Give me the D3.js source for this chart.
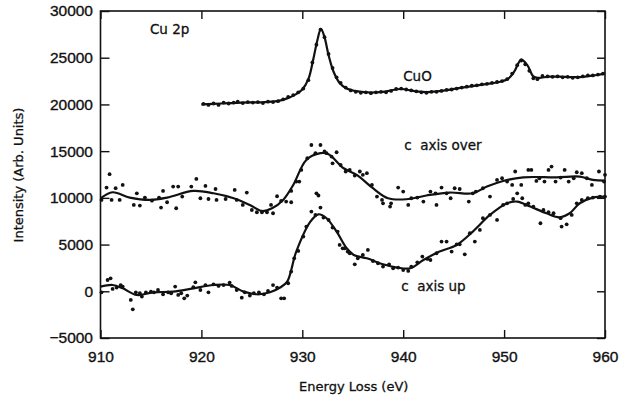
<!DOCTYPE html>
<html>
<head>
<meta charset="utf-8">
<script src="https://cdn.jsdelivr.net/npm/d3@7"></script>
<style>
  html, body { margin: 0; padding: 0; background: #fff; }
  svg { display: block; font-family: "DejaVu Sans", sans-serif; }
  .tick line { stroke: #111; stroke-width: 1.4; }
  .tick text { fill: #111; font-size: 15.5px; stroke: #111; stroke-width: 0.35; }
  .frame { fill: none; stroke: #111; stroke-width: 1.6; }
  .fit { fill: none; stroke: #111; stroke-width: 2.2; }
  .dot { fill: #111; }
  .note { fill: #111; font-size: 13.5px; white-space: pre; stroke: #111; stroke-width: 0.3; }
  .axis-title { fill: #111; font-size: 13px; stroke: #111; stroke-width: 0.3; }
</style>
</head>
<body>
<svg id="chart" width="622" height="400"></svg>
<script>
// tick values
const xTicks = [910, 920, 930, 940, 950, 960];
const yTicks = [-5000, 0, 5000, 10000, 15000, 20000, 25000, 30000];

// CuO spectrum: measured points and fitted curve [energy, intensity]
const cuoPoints = [
  [920.2,20050],[920.7,19950],[921.2,20100],[921.7,19950],[922.2,20200],[922.7,20100],[923.2,20200],[923.6,20300],
  [924.1,20150],[924.6,20250],[925.1,20200],[925.6,20250],[926.1,20150],[926.6,20300],[927.1,20250],[927.6,20350],
  [928.1,20550],[928.6,20800],[929.1,21000],[929.6,21300],[930.1,21700],[930.6,22600],[931.0,24500],[931.4,26400],
  [931.8,28000],[932.2,27200],[932.6,25400],[933.0,23900],[933.4,22900],[933.8,22300],[934.3,21800],[934.8,21500],
  [935.3,21350],[935.8,21250],[936.3,21300],[936.8,21200],[937.3,21300],[937.8,21350],[938.3,21300],[938.8,21450],
  [939.3,21650],[939.8,21700],[940.3,21600],[940.8,21500],[941.3,21400],[941.8,21300],[942.3,21250],[942.8,21350],
  [943.3,21350],[943.8,21450],[944.3,21550],[944.8,21600],[945.3,21700],[945.8,21800],[946.3,21900],[946.8,22000],
  [947.3,22050],[947.8,22150],[948.3,22200],[948.8,22300],[949.3,22400],[949.8,22500],[950.3,22700],[950.8,23300],
  [951.3,24200],[951.7,24700],[952.1,24300],[952.5,23600],[952.9,22800],[953.3,22700],[953.8,23050],[954.3,23000],
  [954.8,22950],[955.3,23000],[955.8,22900],[956.3,22950],[956.8,22850],[957.3,22900],[957.8,23000],[958.3,23100],
  [958.8,23100],[959.3,23200],[959.8,23300]
];
const cuoFit = [
  [920,20000],[922,20100],[924,20200],[926,20230],[927.5,20350],[928.5,20650],[929.3,21050],[930,21600],
  [930.6,22700],[931.1,24900],[931.5,26900],[931.85,28100],[932.2,27200],[932.6,25300],[933.1,23500],[933.7,22300],
  [934.4,21700],[935.2,21450],[936.5,21280],[938,21350],[939.8,21650],[941,21450],[942.5,21320],[944,21480],
  [946,21830],[948,22150],[949.5,22400],[950.4,22750],[951,23500],[951.7,24800],[952.3,24200],[952.9,23000],
  [953.4,22850],[954.5,22980],[956,22950],[957.5,22920],[959,23120],[960,23300]
];

// c axis over
const overPoints = [
  [910.1,9780],[910.6,11100],[910.9,12530],[911.1,9780],[911.5,11040],[911.9,9780],[912.2,11380],[913.3,9240],
  [913.6,10490],[913.9,9170],[914.4,10030],[915.1,9700],[915.8,10030],[916.0,8960],[916.2,10740],[916.6,9530],
  [917.2,11210],[917.5,8890],[917.7,11210],[918.1,10140],[919.0,11210],[919.5,12030],[919.9,9960],[920.4,11280],
  [920.7,9880],[921.4,10950],[921.5,9780],[922.4,9880],[923.3,10850],[923.5,9780],[924.1,9240],[924.5,10570],
  [925.0,8700],[925.5,8460],[926.0,8460],[926.5,8460],[927.1,8350],[926.9,9240],[927.5,10170],[927.9,9670],
  [928.4,9600],[928.9,9530],[928.9,10740],[929.4,11740],[929.7,11740],[929.9,12990],[930.5,14240],[930.9,15660],
  [931.3,14780],[931.4,10490],[931.6,10250],[931.8,15660],[932.2,14960],[932.4,14780],[932.9,14420],[933.0,13700],
  [933.4,14880],[933.8,13520],[934.3,12820],[934.7,12990],[935.2,12390],[935.7,12820],[936.0,12460],[936.4,12640],
  [936.9,11380],[937.4,10140],[937.9,9780],[938.0,9420],[938.7,9070],[938.8,9420],[939.5,11100],[940.0,10670],
  [940.5,9240],[940.8,9960],[941.4,10030],[942.0,9600],[942.7,10670],[943.2,10490],[943.3,9240],[943.8,11100],
  [944.3,10490],[944.7,9960],[945.1,11030],[945.6,10950],[946.5,9600],[946.9,10490],[947.2,10670],[947.9,11030],
  [948.6,10140],[949.3,11920],[949.8,12100],[950.3,11740],[950.8,11380],[951.1,12820],[951.7,11380],[952.4,12990],
  [952.7,12990],[953.2,11810],[953.5,12100],[954.0,11740],[954.4,12990],[954.7,13350],[955.1,11740],[955.6,12170],
  [956.0,12990],[956.4,11740],[956.9,12100],[957.2,12740],[957.7,12640],[958.2,12100],[958.7,11380],[959.4,12820],
  [959.9,11740],[960.0,12460]
];
const overFit = [
  [910,9950],[911.2,10600],[912.9,10030],[914.9,9780],[916.6,10030],[919.2,10740],[921.2,10490],[923.2,9960],
  [924.8,9240],[926.0,8600],[927.0,8890],[928.1,9780],[929.1,11380],[930.4,14060],[931.8,14780],[932.6,14670],
  [934.1,13170],[935.4,12460],[937.0,11030],[938.5,9960],[940.3,9850],[942.3,10250],[944.6,10570],[946.9,10490],
  [948.3,11210],[949.9,11810],[951.9,12200],[955.2,12200],[957.5,12280],[958.8,11920],[960,11850]
];

// c axis up
const upPoints = [
  [910.1,-110],[910.7,1210],[911.0,1390],[911.2,250],[911.6,400],[912.0,670],[912.2,500],[913.0,-930],
  [913.2,-1930],[913.5,-110],[913.9,-210],[914.1,-570],[914.5,-110],[915.0,-40],[915.3,-110],[915.7,140],
  [916.2,-320],[916.7,-110],[917.0,-210],[917.4,500],[917.7,-390],[918.0,-210],[918.3,-750],[918.6,-460],
  [919.2,430],[919.4,960],[919.9,140],[920.4,670],[920.7,-110],[921.2,740],[921.7,570],[922.2,670],
  [922.8,930],[923.0,570],[923.5,140],[924.0,-680],[924.3,-110],[924.8,-460],[925.2,-210],[925.7,-110],
  [926.2,-320],[926.6,40],[927.1,670],[927.5,400],[927.9,-750],[928.2,-750],[928.6,860],[928.9,2110],
  [929.2,3530],[929.6,4320],[930.1,5860],[930.4,6930],[930.9,8530],[931.3,8170],[931.8,8960],[932.1,7890],
  [932.6,7640],[933.0,6820],[933.5,6390],[934.0,4600],[934.5,4250],[933.7,4960],[934.2,4600],[934.7,4070],
  [935.2,2890],[935.5,3530],[936.0,3890],[936.5,4430],[937.0,3240],[937.5,3000],[938.0,2640],[938.6,2890],
  [939.0,2460],[939.5,2540],[940.0,2280],[940.5,2180],[940.8,2640],[941.4,3100],[941.9,3710],[942.4,3460],
  [942.7,3350],[943.3,4070],[943.8,5320],[944.3,5320],[944.8,4250],[945.3,5030],[945.6,5030],[946.1,3960],
  [946.6,6210],[947.1,5320],[947.6,6570],[947.9,7820],[948.6,8170],[949.3,7640],[949.9,9240],[950.3,9420],
  [950.9,9880],[951.3,10490],[951.8,9960],[952.1,9240],[952.4,9420],[952.9,9070],[953.6,7280],[953.9,8710],
  [954.4,8460],[954.9,8350],[955.6,7820],[955.7,6930],[956.2,7170],[956.7,8170],[957.2,9420],[957.7,9780],
  [958.3,9960],[958.8,10030],[959.5,10140],[960.0,10140]
];
const upFit = [
  [910,500],[911.2,670],[912.2,320],[913.6,-400],[915.2,-110],[917.2,-40],[919.2,320],[921.2,670],
  [922.8,670],[924.2,-40],[925.5,-320],[926.8,-110],[927.8,400],[928.5,1040],[929.4,4250],[930.8,7460],
  [931.6,8240],[932.4,7820],[933.4,6390],[934.4,4600],[935.1,3890],[936.4,3530],[938.0,2890],[939.4,2540],
  [940.7,2460],[942.0,3350],[943.6,4250],[945.3,4960],[946.9,6390],[948.6,8170],[950.3,9420],[951.3,9600],
  [952.6,9070],[954.2,8350],[955.5,7920],[956.5,8350],[957.5,9420],[958.8,10030],[960,10140]
];

const notes = [
  { text: 'Cu 2p', e: 914.9, v: 27550 },
  { text: 'CuO', e: 940.0, v: 22500 },
  { text: 'c  axis over', e: 940.1, v: 15100 },
  { text: 'c  axis up', e: 939.8, v: 50 }
];

const svg = d3.select('#chart');
const mLeft = 100.5, mRight = 605, mTop = 11, mBottom = 338;

const x = d3.scaleLinear().domain([910, 960]).range([mLeft, mRight]);
const y = d3.scaleLinear().domain([-5000, 30000]).range([mBottom, mTop]);

// axes with inward ticks on all four sides
svg.append('g').attr('transform', `translate(0,${mBottom})`)
  .call(d3.axisBottom(x).tickValues(xTicks).tickSize(-8).tickSizeOuter(0).tickPadding(12.5).tickFormat(d3.format('d')))
  .call((g) => g.select('.domain').remove());
svg.append('g').attr('transform', `translate(0,${mTop})`)
  .call(d3.axisTop(x).tickValues(xTicks).tickSize(-8).tickSizeOuter(0).tickFormat(''))
  .call((g) => g.select('.domain').remove());
svg.append('g').attr('transform', `translate(${mLeft},0)`)
  .call(d3.axisLeft(y).tickValues(yTicks).tickSize(-9).tickSizeOuter(0).tickPadding(7.5).tickFormat((d) => (d < 0 ? '\u2212' + Math.abs(d) : String(d))))
  .call((g) => g.select('.domain').remove());
svg.append('g').attr('transform', `translate(${mRight},0)`)
  .call(d3.axisRight(y).tickValues(yTicks).tickSize(-8).tickSizeOuter(0).tickFormat(''))
  .call((g) => g.select('.domain').remove());

svg.append('rect').attr('class', 'frame')
  .attr('x', mLeft).attr('y', mTop).attr('width', mRight - mLeft).attr('height', mBottom - mTop);

const line = d3.line()
  .x((d) => x(d[0]))
  .y((d) => y(d[1]))
  .curve(d3.curveCatmullRom.alpha(0.5));

const plot = svg.append('g');
[cuoFit, overFit, upFit].forEach((fit) => {
  plot.append('path').attr('class', 'fit').attr('d', line(fit));
});
[cuoPoints, overPoints, upPoints].forEach((pts) => {
  plot.append('g').selectAll('circle')
    .data(pts)
    .join('circle')
    .attr('class', 'dot')
    .attr('cx', (d) => x(d[0]))
    .attr('cy', (d) => y(d[1]))
    .attr('r', 1.9);
});

svg.append('g').selectAll('text')
  .data(notes)
  .join('text')
  .attr('class', 'note')
  .attr('x', (d) => x(d.e))
  .attr('y', (d) => y(d.v))
  .text((d) => d.text);

svg.append('text').attr('class', 'axis-title')
  .attr('x', (mLeft + mRight) / 2 + 1).attr('y', 391)
  .attr('text-anchor', 'middle')
  .text('Energy Loss (eV)');

svg.append('text').attr('class', 'axis-title')
  .attr('transform', 'translate(23,175) rotate(-90)')
  .attr('text-anchor', 'middle')
  .text('Intensity (Arb. Units)');
</script>
</body>
</html>
